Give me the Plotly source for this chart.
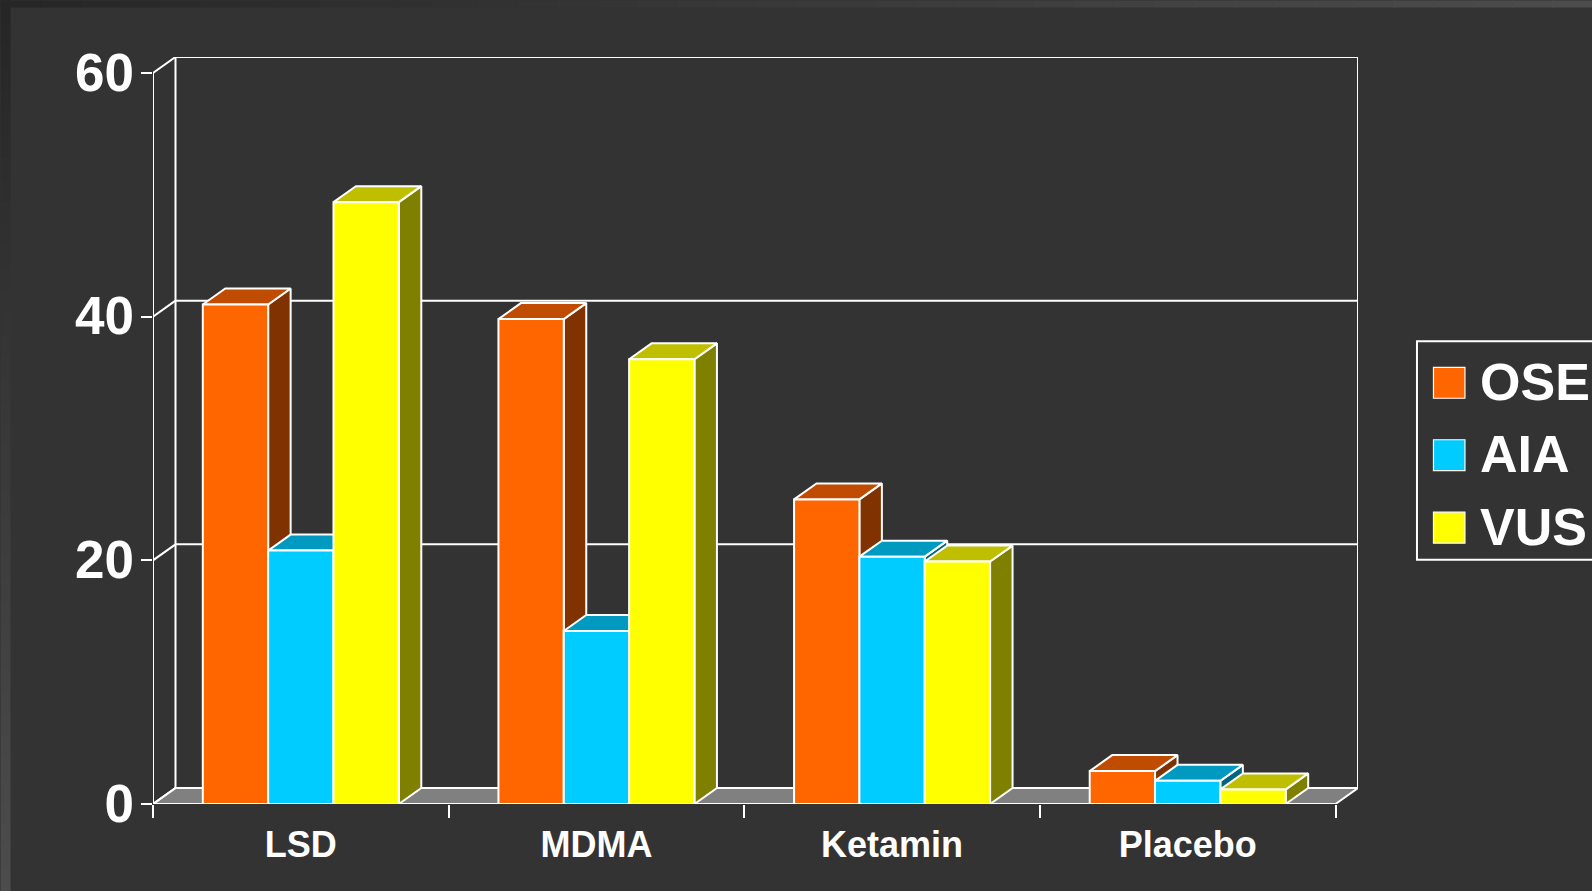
import plotly.graph_objects as go

# ---- data ----
categories = ["LSD", "MDMA", "Ketamin", "Placebo"]
OSE = [41.0, 39.8, 25.0, 2.7]
AIA = [20.8, 14.2, 20.3, 1.9]
VUS = [49.4, 36.5, 19.9, 1.2]
y_ticks = [0, 20, 40, 60]
series_names = ["OSE", "AIA", "VUS"]

front = ["#FF6600", "#00CCFF", "#FFFF00"]
top = ["#BF4C00", "#0099BF", "#BFBF00"]
side = ["#803300", "#006680", "#808000"]
FONT = "Liberation Sans"

# ---- geometry of the page, in pixels ----
W, H = 1592, 891
L, R, T, B = 152.5, 1358.0, 56.5, 804.0
DX_PX, DY_PX = 22.5, 16.0
n = len(categories)
px_per_x = (R - L - DX_PX) / n
px_per_y = (B - T - DY_PX) / 60
dx, dy = DX_PX / px_per_x, DY_PX / px_per_y
bargap = 0.337
bw = (1 - bargap) / 3

LW = 2.0
def px(x): return (x - L) / (R - L)
def py(y): return (B - y) / (B - T)

fig = go.Figure()

def poly(xs, ys, fill=None, axis="x", yaxis="y", width=LW, mode="lines"):
    fig.add_trace(go.Scatter(
        x=xs, y=ys, mode=mode, xaxis=axis, yaxis=yaxis, cliponaxis=False,
        line=dict(color="white", width=width),
        fill="toself" if fill else "none", fillcolor=fill,
        showlegend=False, hoverinfo="skip"))

# floor
poly([0, n, n + dx, dx, 0], [0, 0, dy, dy, 0], fill="#808080")
# back wall and side wall
poly([dx, dx, n + dx, n + dx], [dy, 60 + dy, 60 + dy, dy])
for v in y_ticks[1:-1]:
    poly([dx, n + dx], [v + dy, v + dy])
for v in y_ticks:
    poly([0, dx], [v, v + dy])

# depth faces, left to right, so that each one covers the previous ones
series = [OSE, AIA, VUS]
for i in range(n):
    for s, vals in enumerate(series):
        v = vals[i]
        x0 = i + bargap / 2 + s * bw
        x1 = x0 + bw
        poly([x1, x1 + dx, x1 + dx, x1, x1], [0, dy, v + dy, v, 0], fill=side[s])
        poly([x0, x1, x1 + dx, x0 + dx, x0], [v, v, v + dy, v + dy, v], fill=top[s])

# front faces: real bars on an overlaid pair of axes
cat_x = [i + 0.5 for i in range(n)]
for s, vals in enumerate(series):
    fig.add_trace(go.Bar(
        x=cat_x, y=vals, name=series_names[s], xaxis="x2", yaxis="y2",
        marker=dict(color=front[s], line=dict(color="white", width=LW)),
        showlegend=False))

# front axis lines
poly([0, 0], [0, 60], axis="x2", yaxis="y2")
poly([0, n], [0, 0], axis="x2", yaxis="y2")

# page background strips
shapes = []
STEPS = 40
def mix(t):
    c = round(0x26 + (0x4D - 0x26) * t)
    return f"rgb({c},{c},{c})"
for k in range(STEPS):
    shapes.append(dict(type="rect", xref="paper", yref="paper", layer="below", line_width=0,
                       x0=px(W * k / STEPS), x1=px(W * (k + 1) / STEPS) + 0.001,
                       y0=py(7), y1=py(0), fillcolor=mix(k / STEPS)))
    shapes.append(dict(type="rect", xref="paper", yref="paper", layer="below", line_width=0,
                       x0=px(0), x1=px(10),
                       y0=py(H * (k + 1) / STEPS) - 0.001, y1=py(H * k / STEPS), fillcolor=mix(k / STEPS)))

# legend, drawn by hand because plotly caps its swatch size
LEG_X0, LEG_Y0, LEG_Y1 = 1417.0, 341.0, 559.5
shapes.append(dict(type="rect", xref="paper", yref="paper", layer="above",
                   x0=px(LEG_X0), x1=px(W + 20), y0=py(LEG_Y1), y1=py(LEG_Y0),
                   line=dict(color="white", width=LW), fillcolor="rgba(0,0,0,0)"))
annotations = []
for s, (name, yc) in enumerate(zip(series_names, [382.5, 455.0, 527.5])):
    shapes.append(dict(type="rect", xref="paper", yref="paper", layer="above",
                       x0=px(1433.5), x1=px(1465), y0=py(yc + 15.5), y1=py(yc - 15.5),
                       fillcolor=front[s], line=dict(color="white", width=1.2)))
    annotations.append(dict(xref="paper", yref="paper", x=px(1478), y=py(yc - 1), text=f"<b>{name}</b>",
                            showarrow=False, xanchor="left", yanchor="middle",
                            font=dict(family=FONT, size=52, color="white")))

fig.update_layout(
    width=W, height=H, autosize=False,
    margin=dict(l=L, r=W - R, t=T, b=H - B, pad=0),
    paper_bgcolor="#333333", plot_bgcolor="rgba(0,0,0,0)",
    barmode="group", bargap=bargap, bargroupgap=0,
    showlegend=False, shapes=shapes, annotations=annotations,
    font=dict(family=FONT, color="white"),
    xaxis=dict(range=[0, n + dx], showgrid=False, zeroline=False, showline=False,
               tickmode="array", tickvals=cat_x, ticktext=[f"<b>{c}</b>" for c in categories],
               ticks="outside", ticklen=9, tickcolor="rgba(0,0,0,0)",
               tickfont=dict(family=FONT, size=36, color="white"),
               minor=dict(tickmode="array", tickvals=list(range(n + 1)), ticks="outside",
                          ticklen=12.5, tickwidth=2, tickcolor="white", showgrid=False)),
    yaxis=dict(range=[0, 60 + dy], showgrid=False, zeroline=False, showline=False,
               tickmode="array", tickvals=y_ticks, ticktext=[f"<b>{v}</b>" for v in y_ticks],
               ticks="outside", ticklen=11.5, tickwidth=2, tickcolor="white",
               ticklabelstandoff=-4, ticklabelshift=-1,
               tickfont=dict(family=FONT, size=53, color="white")),
    xaxis2=dict(range=[0, n + dx], overlaying="x", visible=False),
    yaxis2=dict(range=[0, 60 + dy], overlaying="y", visible=False),
)

fig.write_html("out.html", config={"displayModeBar": False},
               post_script="document.body.style.margin='0';document.body.style.overflow='hidden';")
